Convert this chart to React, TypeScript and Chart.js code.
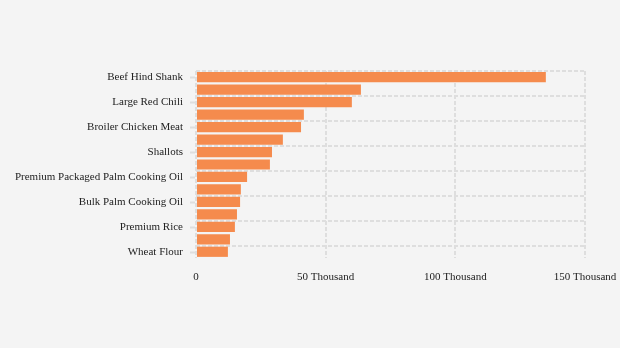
import React, { useEffect, useRef } from "react";
import { Chart, registerables } from "chart.js";

Chart.register(...registerables);

const categories: string[] = [
  "Beef Hind Shank",
  "Red Bird's Eye Chili",
  "Large Red Chili",
  "Curly Red Chili",
  "Broiler Chicken Meat",
  "Garlic",
  "Shallots",
  "Chicken Eggs",
  "Premium Packaged Palm Cooking Oil",
  "Simple Packaged Palm Cooking Oil",
  "Bulk Palm Cooking Oil",
  "Granulated Sugar",
  "Premium Rice",
  "Medium Rice",
  "Wheat Flour",
];

const prices: number[] = [
  134900, 63600, 60100, 41600, 40500, 33500, 29300, 28500, 19700, 17300, 17000,
  15800, 15000, 13100, 12300,
];

const xTickValues: number[] = [0, 50000, 100000, 150000];
const xTickLabels: string[] = ["0", "50 Thousand", "100 Thousand", "150 Thousand"];

const FONT = "'Liberation Serif', 'Times New Roman', serif";
const GRID = "#dedede";

const tickMarkPlugin = {
  id: "tickMarks",
  afterDraw(chart: any) {
    const y = chart.scales.y;
    const area = chart.chartArea;
    const ctx = chart.ctx;
    ctx.save();
    ctx.strokeStyle = GRID;
    ctx.lineWidth = 2;
    for (let i = 0; i < categories.length; i += 2) {
      const py = Math.round(y.getPixelForValue(i)) + 0.5;
      ctx.beginPath();
      ctx.moveTo(area.left - 6, py);
      ctx.lineTo(area.left - 1, py);
      ctx.stroke();
    }
    ctx.restore();
  },
};

export default function App() {
  const ref = useRef<HTMLCanvasElement | null>(null);

  useEffect(() => {
    document.body.style.margin = "0";
    document.body.style.background = "#f4f4f4";
    const canvas = ref.current;
    if (!canvas) return;
    const chart = new Chart(canvas, {
      type: "bar",
      data: {
        labels: categories,
        datasets: [
          {
            data: prices,
            backgroundColor: "rgb(245,139,77)",
            borderWidth: 0,
            barPercentage: 0.82,
            categoryPercentage: 1,
          },
        ],
      },
      options: {
        indexAxis: "y",
        animation: false,
        responsive: false,
        maintainAspectRatio: false,
        layout: { padding: { top: 71, right: 35, bottom: 60, left: 0 } },
        plugins: {
          legend: { display: false },
          tooltip: { enabled: false },
          title: { display: false },
        },
        scales: {
          x: {
            type: "linear",
            min: 0,
            max: 150000,
            afterFit: (s: any) => {
              s.height = 30;
              s.paddingLeft = 0;
              s.paddingRight = 0;
            },
            afterBuildTicks: (s: any) => {
              s.ticks = xTickValues.map((v) => ({ value: v }));
            },
            ticks: {
              padding: 13,
              color: "#222",
              font: { family: FONT, size: 11 },
              callback: (v: any) => {
                const i = xTickValues.indexOf(Number(v));
                return i >= 0 ? xTickLabels[i] : "";
              },
            },
            grid: {
              color: GRID,
              lineWidth: 2,
              drawTicks: false,
              tickLength: 0,
            },
            border: { display: false, dash: [4, 2] },
          },
          y: {
            type: "category",
            afterFit: (s: any) => {
              s.width = 196;
              s.paddingTop = 0;
              s.paddingBottom = 0;
            },
            ticks: {
              autoSkip: false,
              padding: 13,
              color: "#222",
              font: { family: FONT, size: 11 },
              callback: (_v: any, i: number) => (i % 2 === 0 ? categories[i] : ""),
            },
            grid: {
              offset: true,
              color: (c: any) => (c.index % 2 === 0 ? GRID : "rgba(0,0,0,0)"),
              lineWidth: 2,
              drawTicks: false,
              tickLength: 0,
            },
            border: { display: false, dash: [4, 2] },
          },
        },
      },
      plugins: [tickMarkPlugin],
    } as any);
    return () => chart.destroy();
  }, []);

  return (
    <div style={{ position: "fixed", left: 0, top: 0, width: 620, height: 348, background: "#f4f4f4" }}>
      <canvas ref={ref} width={620} height={348} style={{ width: 620, height: 348 }} />
    </div>
  );
}
